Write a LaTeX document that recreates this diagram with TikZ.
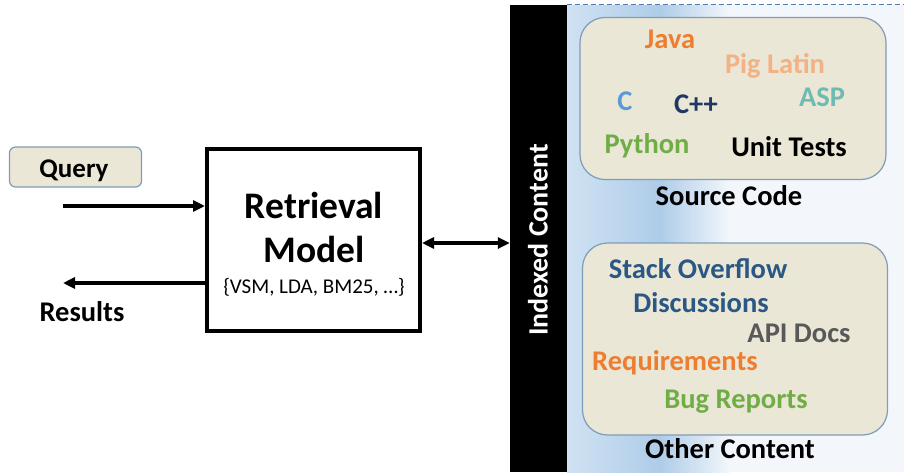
\documentclass[tikz,border=0pt]{standalone}
\usepackage{fontspec}
\setmainfont{Carlito}
\usetikzlibrary{arrows.meta}
\definecolor{beige}{HTML}{EBE7D6}
\definecolor{boxline}{HTML}{7F9CB8}
\definecolor{bgA}{HTML}{D0E2F3}
\definecolor{bgB}{HTML}{AECCE8}
\definecolor{bgC}{HTML}{F3F7FB}
\definecolor{cjava}{HTML}{ED7D31}
\definecolor{cpig}{HTML}{F4B183}
\definecolor{cc}{HTML}{5B9BD5}
\definecolor{ccpp}{HTML}{1F3864}
\definecolor{casp}{HTML}{6DBBB2}
\definecolor{cpy}{HTML}{70AD47}
\definecolor{cso}{HTML}{2A5783}
\definecolor{capi}{HTML}{595959}
\definecolor{dashc}{HTML}{4F7DB3}
\tikzset{
  x=1pt,y=1pt,
  big/.style={font=\fontsize{28.5}{30}\selectfont\bfseries, anchor=base, inner sep=0pt},
  huge/.style={font=\fontsize{37.5}{40}\selectfont\bfseries, anchor=base, inner sep=0pt},
  contentbox/.style={draw=boxline, fill=beige, line width=1.2pt, rounded corners=25pt},
  arr/.style={line width=3.3pt, -{Triangle[length=12pt,width=11pt]}},
  darr/.style={line width=3.3pt, {Triangle[length=12pt,width=11pt]}-{Triangle[length=12pt,width=11pt]}},
}
\begin{document}
\begin{tikzpicture}
\useasboundingbox (0,0) rectangle (904,-472);
% background of indexed content area
\shade[left color=bgA, right color=bgB] (567,-5) rectangle (660,-472);
\shade[left color=bgB, right color=bgC] (660,-5) rectangle (730,-472);
\fill[bgC] (730,-5) rectangle (904,-472);
\draw[dashc, line width=1pt, dash pattern=on 5pt off 3pt] (567,-4.5) -- (904,-4.5);
% black bar
\node[fill=black, inner sep=0pt, minimum width=57pt, minimum height=467pt] (bar) at (538.5,-238.5) {};
\node[font=\fontsize{28}{30}\selectfont\bfseries, inner sep=0pt, text=white, rotate=90] (idx) at (538,-240) {Indexed Content};
% query
\node[draw=boxline, fill=beige, line width=1.2pt, rounded corners=6pt, minimum width=132pt, minimum height=40pt] (qbox) at (75.5,-167) {};
\node[font=\fontsize{27}{29}\selectfont\bfseries, anchor=base, inner sep=0pt] (query) at (74,-177) {Query};
% model
\node[draw=black, line width=4pt, minimum width=213pt, minimum height=182pt, inner sep=0pt] (model) at (313.5,-240) {};
\node[huge] (ret) at (314,-218) {Retrieval};
\node[huge] (mod) at (314,-262) {Model};
\node[font=\fontsize{21}{23}\selectfont, anchor=base, inner sep=0pt, text=black] (algs) at (314,-293) {\{VSM, LDA, BM25, …\}};
% arrows
\coordinate (qs) at (63,-206);
\coordinate (re) at (63,-283);
\coordinate (dl) at (207,-243);
\draw[arr] (qs) -- (qs -| model.west);
\draw[arr] (model.west |- re) -- (re);
\draw[darr] (model.east |- dl) -- (bar.west |- dl);
\node[big] (results) at (82,-321) {Results};
% source code box
\node[contentbox, minimum width=306pt, minimum height=162pt] (src) at (733,-98.5) {};
\node[big, text=cjava] (java) at (670,-48) {Java};
\node[big, text=cpig] (pig) at (775,-73) {Pig Latin};
\node[big, text=cc] (c) at (625,-110) {C};
\node[big, text=ccpp] (cpp) at (696,-113) {C++};
\node[big, text=casp] (asp) at (822,-106) {ASP};
\node[big, text=cpy] (py) at (647,-153) {Python};
\node[big, text=black] (ut) at (789,-156) {Unit Tests};
\node[big] (srclab) at (729,-205) {Source Code};
% other content box
\node[contentbox, minimum width=305pt, minimum height=192pt] (oth) at (735,-339) {};
\node[big, text=cso] (so) at (698,-278) {Stack Overflow};
\node[big, text=cso] (disc) at (701,-312) {Discussions};
\node[big, text=capi] (api) at (799,-342) {API Docs};
\node[big, text=cjava] (req) at (675,-370) {Requirements};
\node[big, text=cpy] (bug) at (736,-408) {Bug Reports};
\node[big] (othlab) at (730,-458) {Other Content};
\end{tikzpicture}
\end{document}
